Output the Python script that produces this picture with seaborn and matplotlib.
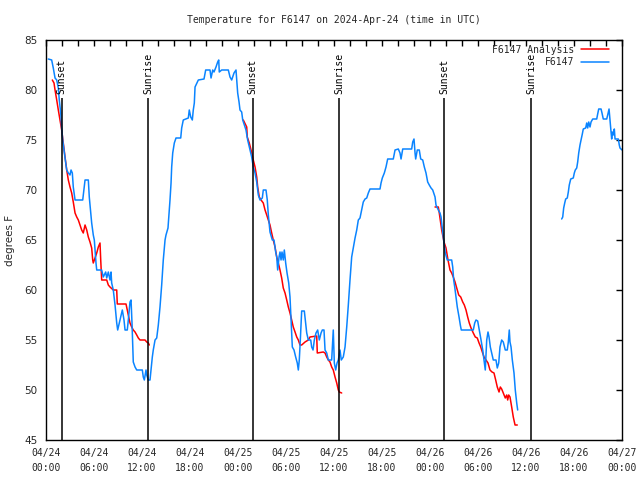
import matplotlib

matplotlib.use("Agg")
import matplotlib.dates as mdates
import matplotlib.pyplot as plt
import pandas as pd
import seaborn as sns

START = pd.Timestamp("2024-04-24 00:00")

# hours after 04/24 00:00 UTC and temperature (F)
obs_a_hours = [0.29, 0.71, 0.91, 1.13, 1.34, 1.54, 1.66, 1.84, 1.96, 2.09, 2.25, 2.38, 2.59, 2.79,
               3.0, 3.13, 3.29, 3.41, 3.63, 4.59, 4.88, 5.29, 5.41, 5.5, 5.71, 5.91, 6.04, 6.25,
               6.34, 6.96, 7.16, 7.46, 7.59, 7.79, 8.0, 8.13, 8.21, 8.41, 8.63, 8.84, 8.96, 9.25,
               9.54, 9.75, 9.88, 10.16, 10.29, 10.5, 10.63, 10.75, 10.91, 11.13, 11.34, 12.04,
               12.16, 12.29, 12.5, 12.59, 12.79, 13.0, 13.13, 13.29, 13.41, 13.63, 13.84, 14.04,
               14.25, 14.46, 14.66, 14.88, 15.0, 15.25, 15.5, 15.63, 15.71, 15.84, 16.04, 16.25,
               16.84, 16.96, 17.16, 17.79, 17.91, 18.09, 18.29, 18.41, 18.54, 18.63, 19.04, 19.75,
               19.96, 20.5, 20.63, 20.84, 21.0, 21.25, 21.46, 21.59, 21.66, 21.96, 22.79, 23.0,
               23.21, 23.5, 23.75, 23.84, 23.96, 24.13, 24.25, 24.46, 24.59, 24.79, 25.0, 25.21,
               25.5, 25.71, 25.91, 26.13, 26.34, 26.54, 26.75, 27.04, 27.16, 27.5, 27.66, 27.79,
               28.0, 28.29, 28.5, 28.71, 28.84, 28.96, 29.13, 29.25, 29.38, 29.5, 29.66, 29.79,
               29.96, 30.13, 30.34, 30.5, 30.63, 30.79, 31.0, 31.21, 31.41, 31.54, 31.66, 31.79,
               31.96, 32.29, 32.41, 32.59, 32.79, 33.09, 33.21, 33.38, 33.54, 33.75, 33.96, 34.16,
               34.38, 34.54, 34.75, 34.88, 35.09, 35.29, 35.71, 35.91, 36.04, 36.21, 36.38, 36.54,
               36.75, 36.91, 37.16, 37.38, 37.59, 37.79, 38.0, 38.21, 38.41, 38.63, 38.84, 39.04,
               39.25, 39.46, 39.66, 39.88, 40.09, 40.29, 40.5, 41.75, 41.88, 42.04, 42.29, 42.5,
               42.71, 43.41, 43.63, 44.04, 44.25, 44.38, 44.59, 45.71, 45.84, 46.0, 46.13, 46.21,
               46.41, 46.66, 46.84, 47.09, 47.29, 47.5, 47.71, 47.91, 48.13, 48.34, 48.63, 48.75,
               49.04, 49.25, 49.38, 49.46, 49.59, 49.75, 49.91, 50.16, 50.71, 50.84, 50.96, 51.09,
               51.25, 51.41, 51.63, 51.79, 51.91, 53.41, 53.59, 53.75, 53.96, 54.16, 54.38, 54.59,
               54.79, 54.91, 55.09, 55.25, 55.38, 55.54, 55.71, 55.91, 56.25, 56.41, 56.59, 56.75,
               56.96, 57.16, 57.41, 57.66, 57.79, 57.91, 58.0, 58.13, 58.29, 58.5, 58.66, 58.84,
               58.96]
obs_a_temp = [83.1, 83.0, 82.2, 81.2, 81.0, 80.2, 79.0, 77.7, 76.2, 75.0, 74.0, 73.2, 72.0, 71.7,
              71.5, 72.0, 71.7, 70.3, 69.0, 69.0, 71.0, 71.0, 69.3, 68.5, 66.7, 65.5, 65.0, 62.7,
              62.0, 62.0, 61.3, 61.8, 61.2, 61.8, 61.0, 61.8, 60.7, 60.0, 58.5, 56.7, 56.0, 57.0,
              58.0, 57.0, 56.0, 56.0, 57.0, 58.8, 59.0, 56.7, 52.8, 52.3, 52.0, 52.0,
              51.3, 51.0, 52.0, 51.5, 51.0, 51.0, 52.0, 53.3, 54.0, 55.0, 55.2, 56.5,
              58.3, 60.5, 63.0, 65.0, 65.5, 66.2, 69.0, 70.7, 72.3, 73.7, 74.7, 75.2,
              75.2, 76.2, 77.0, 77.2, 78.0, 77.3, 77.0, 78.0, 78.7, 80.3, 81.0, 81.1,
              82.0, 82.0, 81.2, 82.0, 81.8, 82.3, 82.8, 83.0, 81.8, 82.0, 82.0, 81.3,
              81.0, 81.7, 82.0, 81.0, 79.7, 78.8, 78.0, 77.8, 77.0, 76.5, 76.0, 75.0,
              74.0, 73.3, 72.3, 71.7, 70.8, 69.5, 69.0, 69.2, 70.0, 70.0, 69.0, 67.5,
              65.8, 65.0, 65.0, 63.8, 63.3, 62.0, 63.3, 63.8, 63.0, 63.8, 63.0, 64.0,
              62.7, 61.7, 60.7, 59.3, 57.0, 54.3, 54.0, 53.3, 52.7, 52.0, 53.0, 55.0,
              57.9, 57.9, 57.0, 55.7, 55.0, 55.0, 54.3, 54.0, 55.0, 55.7, 56.0, 55.0,
              55.7, 56.0, 56.0, 54.0, 53.7, 53.0, 53.0, 56.0, 52.7, 52.0, 52.7, 53.0,
              54.0, 53.0, 53.3, 54.3, 56.3, 58.5, 61.0, 63.3, 64.2, 65.2, 66.0, 67.0,
              67.2, 68.0, 68.8, 69.1, 69.2, 69.7, 70.1, 70.1, 70.7, 71.2, 71.7, 72.3,
              73.1, 73.1, 74.0, 74.1, 73.7, 73.1, 74.1, 74.1, 74.8, 75.1, 73.7, 73.1,
              74.0, 74.0, 73.1, 73.0, 72.3, 71.7, 70.8, 70.5, 70.2, 70.0, 69.3, 68.5,
              68.0, 67.7, 67.3, 66.7, 65.8, 64.7, 63.7, 63.0, 63.0, 62.3, 61.0, 60.3,
              59.3, 58.3, 57.3, 56.5, 56.0, 56.0, 56.7, 57.0, 56.9, 56.0, 55.0, 54.0,
              52.7, 52.0, 55.0, 55.8, 55.3, 54.3, 53.7, 53.0, 53.0, 52.2, 52.7, 54.3,
              55.0, 54.8, 54.0, 54.0, 54.8, 56.0, 54.8, 54.3, 53.0, 51.7, 50.0, 48.7,
              48.0]

obs_b_hours = [64.46, 64.59, 64.71, 64.84, 64.96, 65.16, 65.29, 65.41, 65.59, 65.91, 66.04, 66.16,
               66.34, 66.46, 66.59, 66.75, 66.88, 67.04, 67.16, 67.46, 67.59, 67.71, 67.84, 68.0,
               68.13, 68.34, 68.84, 68.96, 69.09, 69.38, 69.5, 69.66, 70.09, 70.21, 70.38, 70.5,
               70.63, 70.71, 70.79, 70.91, 71.04, 71.13, 71.54, 71.66, 71.75, 72.0]
obs_b_temp = [67.1, 67.3, 68.2, 68.7, 69.1, 69.2, 69.8, 70.5, 71.1, 71.2, 71.7, 72.0,
              72.2, 72.8, 73.7, 74.5, 75.0, 75.6, 76.1, 76.2, 76.7, 76.2, 76.8, 76.3,
              76.8, 77.1, 77.1, 77.6, 78.1, 78.1, 77.7, 77.1, 77.1, 77.5, 78.1, 77.0,
              75.8, 75.1, 75.8, 75.5, 76.1, 75.1, 75.1, 74.5, 74.2, 74.0]

ana_a_hours = [0.79, 1.0, 1.13, 1.34, 1.54, 1.75, 1.96, 2.16, 2.38, 2.59, 2.79, 3.0, 3.21, 3.41,
               3.63, 3.84, 4.04, 4.25, 4.46, 4.66, 4.88, 5.09, 5.29, 5.5, 5.71, 5.84, 5.91, 6.13,
               6.34, 6.54, 6.75, 6.84, 6.96, 7.59, 7.79, 8.0, 8.41, 8.84, 8.91, 10.0, 10.16,
               10.34, 10.5, 10.71, 10.91, 11.13, 11.34, 11.54, 11.75, 12.38, 12.59, 12.79, 12.91]
ana_a_temp = [81.0, 80.7, 80.0, 79.0, 78.0, 77.0, 76.0, 74.7, 73.3, 72.0, 71.0, 70.3, 69.7, 68.8,
              67.7, 67.3, 67.0, 66.5, 66.0, 65.7, 66.5, 66.0, 65.3, 64.8, 64.2, 63.0, 62.7, 63.2,
              63.7, 64.3, 64.7, 63.0, 61.0, 61.0, 60.5, 60.3, 60.0, 60.0, 58.6, 58.6, 58.0,
              57.3, 56.7, 56.3, 56.0, 55.8, 55.5, 55.2, 55.0, 55.0, 54.8, 54.7, 54.5]

ana_b_hours = [24.66, 25.09, 25.16, 25.41, 25.63, 25.91, 26.13, 26.34, 26.46, 26.66, 26.88, 27.16,
               27.38, 27.59, 27.79, 28.0, 28.21, 28.41, 28.63, 28.84, 29.04, 29.25, 29.46, 29.66,
               29.88, 30.09, 30.29, 30.5, 30.71, 30.91, 31.13, 31.34, 31.54, 31.75, 31.96, 32.38,
               32.79, 33.0, 33.84, 33.91, 34.66, 34.88, 35.09, 35.29, 35.5, 35.71, 35.91, 36.13,
               36.34, 36.54, 36.66, 36.96]
ana_b_temp = [77.0, 76.3, 75.3, 74.7, 74.0, 73.0, 72.3, 71.3, 70.3, 69.3, 69.0, 68.7,
              68.0, 67.5, 67.0, 66.5, 65.7, 65.0, 64.3, 63.3, 62.7, 62.0, 61.2, 60.2,
              59.7, 59.0, 58.3, 57.7, 57.0, 56.3, 55.8, 55.3, 55.0, 54.5, 54.5, 54.8,
              55.0, 55.3, 55.4, 53.7, 53.8, 53.7, 53.3, 53.0, 52.8, 52.3, 52.0, 51.3,
              50.7, 50.0, 49.8, 49.7]

ana_c_hours = [48.63, 49.04, 49.16, 49.46, 49.75, 50.0, 50.25, 50.5, 50.71, 50.91, 51.13, 51.34,
               51.59, 51.84, 52.09, 52.29, 52.5, 52.71, 52.91, 53.13, 53.41, 53.66, 53.91, 54.13,
               54.34, 54.54, 54.75, 55.0, 55.25, 55.5, 55.75, 56.0, 56.21, 56.41, 56.63, 56.79,
               56.96, 57.16, 57.41, 57.59, 57.71, 57.84, 58.0, 58.21, 58.41, 58.63, 58.91]
ana_c_temp = [68.3, 68.3, 67.7, 66.0, 64.8, 64.2, 63.0, 62.0, 61.7, 61.3, 60.8, 60.2,
              59.5, 59.3, 58.8, 58.5, 58.0, 57.3, 56.7, 56.2, 55.7, 55.3, 55.2, 54.7,
              54.3, 53.8, 53.3, 53.0, 52.7, 52.0, 51.8, 51.7, 51.0, 50.3, 49.8, 50.3,
              50.1, 49.7, 49.2, 49.5, 49.0, 49.5, 49.3, 48.3, 47.3, 46.5, 46.5]

event_hours = [1.95, 12.78, 25.85, 36.68, 49.8, 60.66]
event_labels = ["Sunset", "Sunrise", "Sunset", "Sunrise", "Sunset", "Sunrise"]


def to_time(hours):
    return START + pd.to_timedelta(hours, unit="h")


sns.set_theme(style="white")
MONO = "DejaVu Sans Mono"
plt.rcParams["font.family"] = ["DejaVu Sans"]

fig = plt.figure(figsize=(6.4, 4.8), dpi=100)
ax = fig.add_axes([46 / 640, 40 / 480, 576 / 640, 400 / 480])

RED = "#ff0000"
BLUE = "#0a84ff"
lw = 1.1

# analysis first so the observations draw on top (and legend order matches)
for i, (h, t) in enumerate([(ana_a_hours, ana_a_temp), (ana_b_hours, ana_b_temp),
                            (ana_c_hours, ana_c_temp)]):
    sns.lineplot(x=to_time(h), y=t, ax=ax, color=RED, linewidth=lw, sort=False,
                 estimator=None, label="F6147 Analysis" if i == 0 else None)
for i, (h, t) in enumerate([(obs_a_hours, obs_a_temp), (obs_b_hours, obs_b_temp)]):
    sns.lineplot(x=to_time(h), y=t, ax=ax, color=BLUE, linewidth=lw, sort=False,
                 estimator=None, label="F6147" if i == 0 else None)

# sunrise / sunset markers
for h, lab in zip(event_hours, event_labels):
    ax.vlines(to_time(h), 45, 79.2, color="black", linewidth=1.1)
    ax.text(to_time(h), 79.6, lab, rotation=90, ha="center", va="bottom",
            fontsize=7, family=MONO, color="black")

ax.set_xlim(START, to_time(72))
ax.set_ylim(45, 85)
ax.set_yticks(range(45, 86, 5))
ax.xaxis.set_major_locator(mdates.HourLocator(byhour=range(0, 24, 6)))
ax.xaxis.set_minor_locator(mdates.HourLocator(byhour=range(0, 24, 2)))
ax.xaxis.set_major_formatter(mdates.DateFormatter("%m/%d\n%H:%M"))
ax.tick_params(axis="both", which="both", direction="in", top=True, right=True,
               length=4, width=1, color="black")
ax.tick_params(axis="x", pad=6)
ax.tick_params(axis="y", pad=6, labelsize=7.5)
for lab in ax.get_xticklabels():
    lab.set_family(MONO)
    lab.set_fontsize(7)
    lab.set_linespacing(1.6)
for s in ax.spines.values():
    s.set_color("black")
    s.set_linewidth(1)

ax.set_xlabel("")
ax.set_ylabel("degrees F", fontsize=7.5, labelpad=7)
ax.set_title("Temperature for F6147 on 2024-Apr-24 (time in UTC)", fontsize=7,
             family=MONO, pad=12)

ax.legend(loc="upper right", bbox_to_anchor=(0.978, 0.988), frameon=False,
          markerfirst=False, prop={"family": MONO, "size": 7}, handlelength=2.9,
          handletextpad=0.7, labelspacing=0.25, borderpad=0, borderaxespad=0)

plt.savefig("out.png", dpi=100)
plt.close()
